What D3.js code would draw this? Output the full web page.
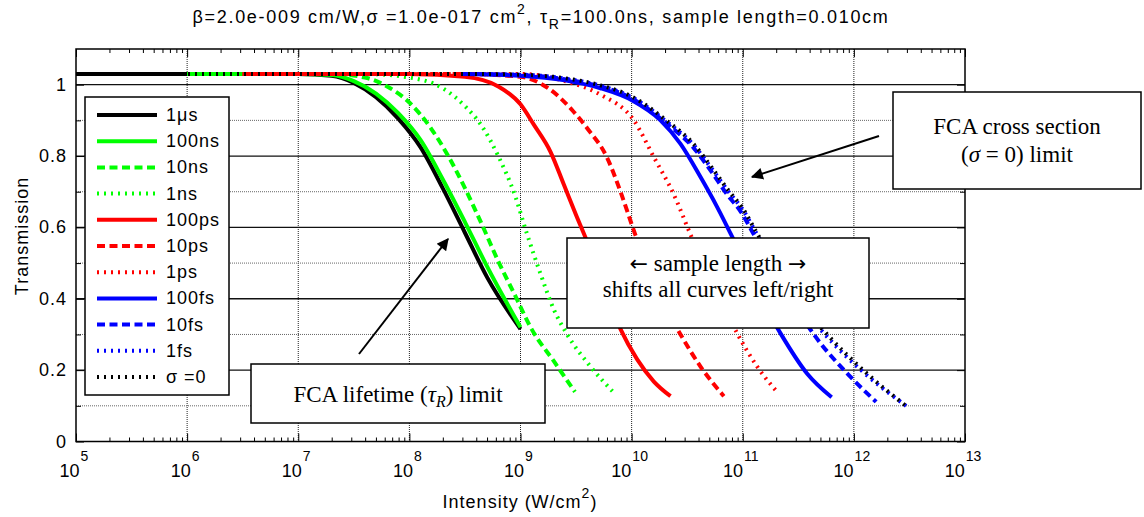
<!DOCTYPE html>
<html lang="en">
<head>
  <meta charset="UTF-8">
  <title>Transmission vs intensity</title>
  <script src="https://d3js.org/d3.v7.min.js"></script>
  <style>
    html, body {
      margin: 0;
      padding: 0;
      background: #fff;
    }
    .curve {
      fill: none;
      stroke-width: 4;
    }
    .ann {
      font-family: "Liberation Serif", "Times New Roman", serif;
      font-size: 23px;
    }
    .sans {
      font-size: 18px;
      letter-spacing: 1px;
    }
  </style>
</head>
<body>
  <div id="container"></div>

  <script>
    const width = 1144;
    const height = 517;

    // series labels (legend order = drawing order)
    const seriesNames = ['1\u03bcs', '100ns', '10ns', '1ns', '100ps', '10ps', '1ps', '100fs', '10fs', '1fs', '\u03c3 =0'];

    // each curve: [log10 of intensity (W/cm^2), transmission]
    const curve1us = [[5, 1.03], [7, 1.03], [7.3, 1.025], [7.5, 1.005], [7.7, 0.965], [7.9, 0.905], [8.1, 0.825], [8.3, 0.71], [8.5, 0.585], [8.7, 0.46], [9.0, 0.315]];
    const curve100ns = [[6, 1.03], [7, 1.03], [7.3, 1.027], [7.5, 1.01], [7.7, 0.975], [7.9, 0.92], [8.1, 0.845], [8.3, 0.735], [8.5, 0.615], [8.7, 0.49], [9.0, 0.32]];
    const curve10ns = [[6, 1.03], [7.3, 1.03], [7.6, 1.02], [7.8, 0.995], [8.0, 0.95], [8.2, 0.875], [8.35, 0.8], [8.5, 0.71], [8.65, 0.61], [8.8, 0.505], [8.95, 0.41], [9.1, 0.315], [9.3, 0.225], [9.49, 0.139]];
    const curve1ns = [[6, 1.03], [7.6, 1.03], [8.0, 1.02], [8.3, 0.99], [8.5, 0.94], [8.65, 0.885], [8.8, 0.8], [8.95, 0.69], [9.05, 0.59], [9.18, 0.47], [9.3, 0.37], [9.42, 0.3], [9.63, 0.21], [9.83, 0.14]];
    const curve100ps = [[6.5, 1.03], [8.0, 1.03], [8.5, 1.022], [8.8, 0.995], [9.0, 0.945], [9.12, 0.888], [9.27, 0.812], [9.39, 0.72], [9.5, 0.635], [9.6, 0.56], [9.75, 0.43], [9.9, 0.315], [10.05, 0.23], [10.2, 0.168], [10.35, 0.127]];
    const curve10ps = [[6.5, 1.03], [8.5, 1.03], [9.0, 1.022], [9.25, 0.99], [9.47, 0.927], [9.6, 0.878], [9.78, 0.795], [9.9, 0.7], [10.01, 0.6], [10.15, 0.48], [10.3, 0.38], [10.44, 0.3], [10.62, 0.21], [10.83, 0.127]];
    const curve1ps = [[6.5, 1.03], [9.0, 1.03], [9.4, 1.01], [9.72, 0.972], [10.02, 0.9], [10.2, 0.797], [10.38, 0.692], [10.53, 0.58], [10.7, 0.46], [10.82, 0.385], [10.95, 0.303], [11.13, 0.21], [11.32, 0.135]];
    const curve100fs = [[8.48, 1.03], [9.0, 1.025], [9.4, 1.012], [9.72, 0.99], [10.01, 0.955], [10.26, 0.9], [10.44, 0.834], [10.62, 0.741], [10.77, 0.657], [10.92, 0.564], [11.05, 0.48], [11.2, 0.38], [11.34, 0.303], [11.58, 0.19], [11.8, 0.124]];
    const curve10fs = [[8.48, 1.03], [9.0, 1.027], [9.4, 1.015], [9.72, 0.995], [10.0, 0.962], [10.32, 0.89], [10.56, 0.822], [10.71, 0.76], [10.86, 0.692], [10.98, 0.645], [11.1, 0.58], [11.25, 0.49], [11.45, 0.39], [11.64, 0.3], [11.97, 0.181], [12.2, 0.111]];
    const curve1fs = [[8.48, 1.03], [9.0, 1.028], [9.4, 1.017], [9.72, 0.997], [10.0, 0.965], [10.32, 0.895], [10.56, 0.83], [10.72, 0.765], [10.88, 0.697], [11.0, 0.65], [11.12, 0.585], [11.3, 0.49], [11.5, 0.39], [11.74, 0.3], [12.1, 0.19], [12.47, 0.1]];
    const curveSigma0 = [[5, 1.03], [8.5, 1.03], [9.0, 1.028], [9.4, 1.018], [9.72, 0.998], [10.0, 0.967], [10.32, 0.898], [10.56, 0.833], [10.72, 0.768], [10.88, 0.7], [11.0, 0.653], [11.12, 0.588], [11.3, 0.495], [11.5, 0.395], [11.76, 0.3], [12.12, 0.19], [12.48, 0.097]];

    const curves = [curve1us, curve100ns, curve10ns, curve1ns, curve100ps, curve10ps, curve1ps, curve100fs, curve10fs, curve1fs, curveSigma0];

    const xTickExps = [5, 6, 7, 8, 9, 10, 11, 12, 13];
    const yTickVals = [0, 0.2, 0.4, 0.6, 0.8, 1];
    const yMinorVals = [0.1, 0.3, 0.5, 0.7, 0.9];

    // styles
    const colors = ['#000', '#00ff00', '#00ff00', '#00ff00', '#ff0000', '#ff0000', '#ff0000', '#0000ff', '#0000ff', '#0000ff', '#000'];
    const dashes = [null, null, '8,4.5', '2,5', null, '8,4.5', '2,5', null, '8,4.5', '2,5', '2,5'];

    const margin = {left: 76, right: 1144 - 965, top: 49, bottom: 517 - 441.5};

    const svg = d3.select('#container').append('svg')
      .attr('width', width).attr('height', height)
      .style('font-family', 'Liberation Sans, Arial, sans-serif');

    const xScale = d3.scaleLog().domain([1e5, 1e13]).range([margin.left, width - margin.right]);
    const yScale = d3.scaleLinear().domain([0, 1.1]).range([height - margin.bottom, margin.top]);

    const x0 = xScale.range()[0], x1 = xScale.range()[1];
    const y0 = yScale.range()[0], y1 = yScale.range()[1];

    // grid
    const grid = svg.append('g');
    grid.selectAll('.vgrid').data(xTickExps.slice(1, -1)).enter().append('line')
      .attr('x1', d => xScale(Math.pow(10, d))).attr('x2', d => xScale(Math.pow(10, d)))
      .attr('y1', y1).attr('y2', y0)
      .attr('stroke', '#222').attr('stroke-width', 1).attr('stroke-dasharray', '1,1');
    grid.selectAll('.hminor').data(yMinorVals).enter().append('line')
      .attr('x1', x0).attr('x2', x1)
      .attr('y1', d => yScale(d)).attr('y2', d => yScale(d))
      .attr('stroke', '#666').attr('stroke-width', 1).attr('stroke-dasharray', '1,1');
    grid.selectAll('.hmajor').data(yTickVals.slice(1)).enter().append('line')
      .attr('x1', x0).attr('x2', x1)
      .attr('y1', d => yScale(d)).attr('y2', d => yScale(d))
      .attr('stroke', '#111').attr('stroke-width', 1.3);

    // curves
    const line = d3.line()
      .x(d => xScale(Math.pow(10, d[0])))
      .y(d => yScale(d[1]))
      .curve(d3.curveMonotoneX);

    svg.append('g').selectAll('path').data(curves).enter().append('path')
      .attr('class', 'curve')
      .attr('d', line)
      .attr('stroke', (d, i) => colors[i])
      .attr('stroke-dasharray', (d, i) => dashes[i]);

    // axes box with inward ticks
    const ax = svg.append('g');
    const minorX = [];
    xTickExps.slice(0, -1).forEach(e => { for (let k = 2; k <= 9; k++) minorX.push(k * Math.pow(10, e)); });

    const xAxisB = d3.axisBottom(xScale).tickValues(xTickExps.map(e => Math.pow(10, e))).tickSize(-8).tickFormat('');
    const xAxisBm = d3.axisBottom(xScale).tickValues(minorX).tickSize(-4).tickFormat('');
    const xAxisT = d3.axisTop(xScale).tickValues(xTickExps.map(e => Math.pow(10, e))).tickSize(-8).tickFormat('');
    const xAxisTm = d3.axisTop(xScale).tickValues(minorX).tickSize(-4).tickFormat('');
    const yAxisL = d3.axisLeft(yScale).tickValues(yTickVals).tickSize(-8).tickFormat('');
    const yAxisLm = d3.axisLeft(yScale).tickValues(yMinorVals).tickSize(-5).tickFormat('');
    const yAxisR = d3.axisRight(yScale).tickValues(yTickVals).tickSize(-8).tickFormat('');
    const yAxisRm = d3.axisRight(yScale).tickValues(yMinorVals).tickSize(-5).tickFormat('');

    [[xAxisB, 0, y0], [xAxisBm, 0, y0], [xAxisT, 0, y1], [xAxisTm, 0, y1],
     [yAxisL, x0, 0], [yAxisLm, x0, 0], [yAxisR, x1, 0], [yAxisRm, x1, 0]].forEach(([a, tx, ty]) => {
      const g = ax.append('g').attr('transform', `translate(${tx},${ty})`).call(a);
      g.select('.domain').remove();
      g.selectAll('line').attr('stroke', '#000').attr('stroke-width', 1);
    });

    ax.append('rect')
      .attr('x', x0).attr('y', y1).attr('width', x1 - x0).attr('height', y0 - y1)
      .attr('fill', 'none').attr('stroke', '#000').attr('stroke-width', 1.5);

    // tick labels
    const xl = svg.append('g').selectAll('text').data(xTickExps).enter().append('text')
      .attr('class', 'sans')
      .attr('x', d => xScale(Math.pow(10, d)) - 2)
      .attr('y', 477)
      .attr('text-anchor', 'middle')
      .style('letter-spacing', '0px');
    xl.append('tspan').text('10');
    xl.append('tspan').attr('dy', -16).attr('dx', 1).style('font-size', '14px').text(d => d);

    svg.append('g').selectAll('text').data(yTickVals).enter().append('text')
      .attr('class', 'sans')
      .attr('x', 67).attr('y', d => yScale(d) + 6)
      .attr('text-anchor', 'end')
      .text(d => d);

    // axis titles
    const xt = svg.append('text').attr('class', 'sans').attr('x', 520).attr('y', 508).attr('text-anchor', 'middle');
    xt.append('tspan').text('Intensity (W/cm');
    xt.append('tspan').attr('dx', 0).attr('dy', -10).style('font-size', '14px').text('2');
    xt.append('tspan').attr('dx', 0).attr('dy', 10).text(')');

    svg.append('text')
      .attr('class', 'sans')
      .attr('transform', 'translate(28,236) rotate(-90)')
      .attr('text-anchor', 'middle')
      .text('Transmission');

    // title
    const tt = svg.append('text').attr('class', 'sans').attr('x', 541).attr('y', 23).attr('text-anchor', 'middle')
      .style('letter-spacing', '1.7px');
    tt.append('tspan').text('\u03b2=2.0e-009 cm/W,\u03c3 =1.0e-017 cm');
    tt.append('tspan').attr('dx', 0).attr('dy', -9).style('font-size', '14px').text('2');
    tt.append('tspan').attr('dy', 9).text(', \u03c4');
    tt.append('tspan').attr('dy', 6).style('font-size', '14px').text('R');
    tt.append('tspan').attr('dy', -6).text('=100.0ns, sample length=0.010cm');

    // legend
    const lg = svg.append('g');
    lg.append('rect').attr('x', 85).attr('y', 97).attr('width', 144).attr('height', 298)
      .attr('fill', '#fff').attr('stroke', '#000').attr('stroke-width', 1.5);
    const rows = lg.selectAll('.row').data(seriesNames).enter().append('g')
      .attr('transform', (d, i) => `translate(0,${115 + i * 26.2})`);
    rows.append('line').attr('x1', 97).attr('x2', 157).attr('y1', 0).attr('y2', 0)
      .attr('stroke', (d, i) => colors[i]).attr('stroke-width', 4)
      .attr('stroke-dasharray', (d, i) => dashes[i]);
    rows.append('text').attr('class', 'sans').attr('x', 166).attr('y', 6).text(d => d);

    // annotation boxes
    function box(xa, ya, xb, yb) {
      svg.append('rect').attr('x', xa).attr('y', ya).attr('width', xb - xa).attr('height', yb - ya)
        .attr('fill', '#fff').attr('stroke', '#000').attr('stroke-width', 1.5);
    }

    box(251, 364, 545, 423);
    const a1 = svg.append('text').attr('class', 'ann').attr('x', 398).attr('y', 402).attr('text-anchor', 'middle');
    a1.append('tspan').text('FCA lifetime (');
    a1.append('tspan').style('font-style', 'italic').text('\u03c4');
    a1.append('tspan').attr('dy', 5).style('font-style', 'italic').style('font-size', '16px').text('R');
    a1.append('tspan').attr('dy', -5).text(') limit');

    box(567, 238, 869, 328);
    const a2 = svg.append('text').attr('class', 'ann').attr('x', 718).attr('y', 271).attr('text-anchor', 'middle');
    a2.append('tspan').style('font-family', 'DejaVu Sans').style('font-size', '22px').text('\u2190');
    a2.append('tspan').text(' sample length ');
    a2.append('tspan').style('font-family', 'DejaVu Sans').style('font-size', '22px').text('\u2192');
    svg.append('text').attr('class', 'ann').attr('x', 718).attr('y', 297).attr('text-anchor', 'middle')
      .text('shifts all curves left/right');

    box(893, 92, 1141, 189);
    svg.append('text').attr('class', 'ann').attr('x', 1017).attr('y', 134).attr('text-anchor', 'middle')
      .text('FCA cross section');
    const a3 = svg.append('text').attr('class', 'ann').attr('x', 1017).attr('y', 162).attr('text-anchor', 'middle');
    a3.append('tspan').text('(');
    a3.append('tspan').style('font-style', 'italic').text('\u03c3');
    a3.append('tspan').text(' = 0) limit');

    // arrows
    const defs = svg.append('defs');
    defs.append('marker').attr('id', 'head').attr('viewBox', '0 0 10 10')
      .attr('refX', 9).attr('refY', 5).attr('markerWidth', 17).attr('markerHeight', 12)
      .attr('markerUnits', 'userSpaceOnUse').attr('orient', 'auto')
      .append('path').attr('d', 'M0,0 L10,5 L0,10 z').attr('fill', '#000');

    svg.append('line').attr('x1', 359).attr('y1', 354).attr('x2', 448).attr('y2', 239)
      .attr('stroke', '#000').attr('stroke-width', 2).attr('marker-end', 'url(#head)');
    svg.append('line').attr('x1', 879).attr('y1', 136).attr('x2', 752).attr('y2', 177)
      .attr('stroke', '#000').attr('stroke-width', 2).attr('marker-end', 'url(#head)');
  </script>
</body>
</html>
